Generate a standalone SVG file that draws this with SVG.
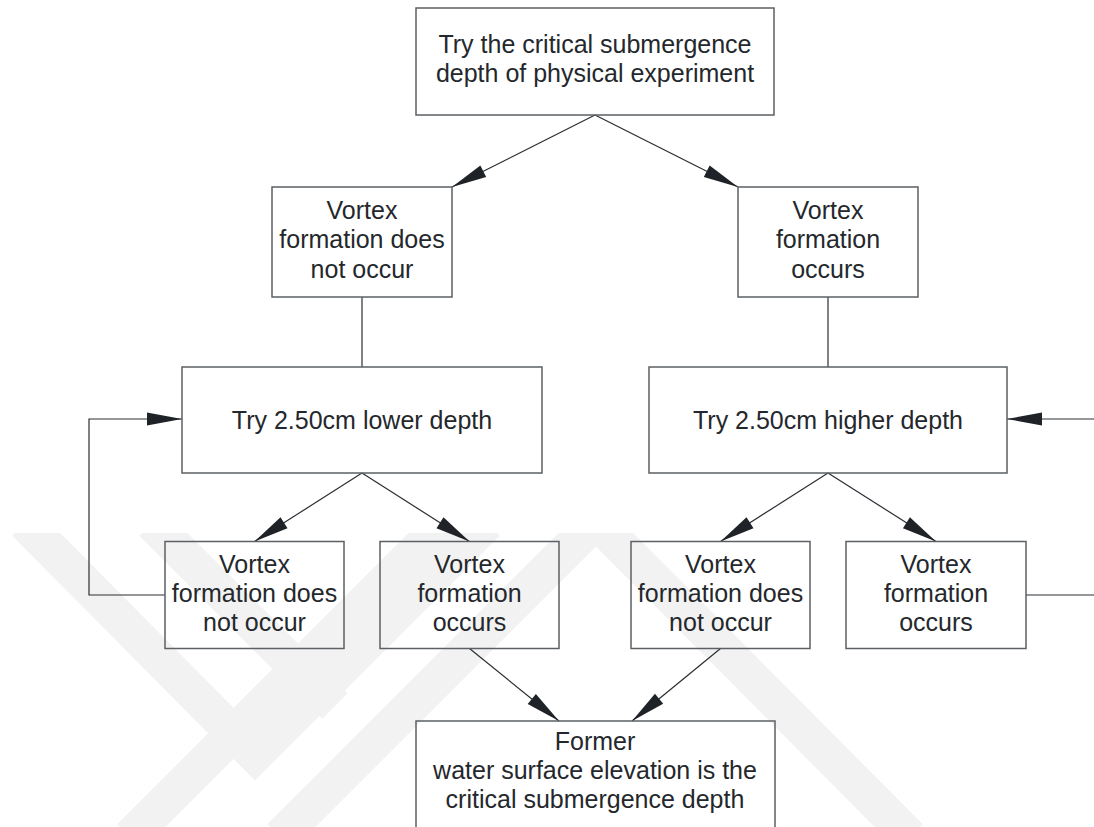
<svg xmlns="http://www.w3.org/2000/svg" width="1094" height="827" viewBox="0 0 1094 827">
<style>
.box{fill:none;stroke:#5c6064;stroke-width:1.5}
.t{font-family:"Liberation Sans",Arial,sans-serif;font-size:25px;fill:#24282c;text-anchor:middle}
.c{stroke:#2a2e33;stroke-width:1.2;fill:none}
.wm{stroke:#f2f2f2;stroke-width:36;fill:none;stroke-linecap:butt}
</style>
<defs>
<marker id="ah" markerUnits="userSpaceOnUse" markerWidth="40" markerHeight="16" viewBox="-38 -8 40 16" refX="0" refY="0" orient="auto">
<path d="M0,0 L-35,-6.5 L-35,6.5 Z" fill="#1f2328"/>
</marker>
<clipPath id="wmclip"><rect x="0" y="533" width="1094" height="294"/></clipPath>
</defs>
<rect width="1094" height="827" fill="#ffffff"/>
<g id="watermark" clip-path="url(#wmclip)">
<path class="wm" d="M25,523 L255,755 L487,523"/>
<path class="wm" d="M152,523 L335,706"/>
<path class="wm" d="M130,837 L444,523"/>
<path class="wm" d="M280,837 L594,523"/>
<path class="wm" d="M598,523 L910,837"/>
</g>
<g id="connectors">
<line class="c" x1="595" y1="115" x2="452" y2="187" marker-end="url(#ah)"/>
<line class="c" x1="595" y1="115" x2="738" y2="187" marker-end="url(#ah)"/>
<line class="c" x1="362" y1="297" x2="362" y2="367"/>
<line class="c" x1="828" y1="297" x2="828" y2="367"/>
<line class="c" x1="362" y1="473" x2="254.5" y2="541.5" marker-end="url(#ah)"/>
<line class="c" x1="362" y1="473" x2="469.5" y2="541.5" marker-end="url(#ah)"/>
<line class="c" x1="828" y1="473" x2="720.5" y2="541.5" marker-end="url(#ah)"/>
<line class="c" x1="828" y1="473" x2="936" y2="541.5" marker-end="url(#ah)"/>
<polyline class="c" points="165,595 89,595 89,419 182,419" marker-end="url(#ah)"/>
<line class="c" x1="1094" y1="419" x2="1007" y2="419" marker-end="url(#ah)"/>
<line class="c" x1="1026" y1="595" x2="1094" y2="595"/>
<line class="c" x1="469.5" y1="648.5" x2="559" y2="721" marker-end="url(#ah)"/>
<line class="c" x1="720.5" y1="648.5" x2="632" y2="721" marker-end="url(#ah)"/>
</g>
<g id="n-start">
<rect class="box" x="416" y="8" width="358" height="107"/>
<text class="t" x="595" y="53">Try the critical submergence</text>
<text class="t" x="595" y="82">depth of physical experiment</text>
</g>
<g id="n-no1">
<rect class="box" x="272" y="187" width="180" height="110"/>
<text class="t" x="362" y="219">Vortex</text>
<text class="t" x="362" y="248">formation does</text>
<text class="t" x="362" y="278">not occur</text>
</g>
<g id="n-yes1">
<rect class="box" x="738" y="187" width="180" height="110"/>
<text class="t" x="828" y="219">Vortex</text>
<text class="t" x="828" y="248">formation</text>
<text class="t" x="828" y="278">occurs</text>
</g>
<g id="n-lower">
<rect class="box" x="182" y="367" width="360" height="106"/>
<text class="t" x="362" y="429">Try 2.50cm lower depth</text>
</g>
<g id="n-higher">
<rect class="box" x="649" y="367" width="358" height="106"/>
<text class="t" x="828" y="429">Try 2.50cm higher depth</text>
</g>
<g id="n-lower-no">
<rect class="box" x="165" y="541.5" width="179" height="107"/>
<text class="t" x="254.5" y="573">Vortex</text>
<text class="t" x="254.5" y="602">formation does</text>
<text class="t" x="254.5" y="631">not occur</text>
</g>
<g id="n-lower-yes">
<rect class="box" x="380" y="541.5" width="179" height="107"/>
<text class="t" x="469.5" y="573">Vortex</text>
<text class="t" x="469.5" y="602">formation</text>
<text class="t" x="469.5" y="631">occurs</text>
</g>
<g id="n-higher-no">
<rect class="box" x="631" y="541.5" width="179" height="107"/>
<text class="t" x="720.5" y="573">Vortex</text>
<text class="t" x="720.5" y="602">formation does</text>
<text class="t" x="720.5" y="631">not occur</text>
</g>
<g id="n-higher-yes">
<rect class="box" x="846" y="541.5" width="180" height="107"/>
<text class="t" x="936" y="573">Vortex</text>
<text class="t" x="936" y="602">formation</text>
<text class="t" x="936" y="631">occurs</text>
</g>
<g id="n-result">
<rect class="box" x="416" y="721" width="359" height="120"/>
<text class="t" x="595" y="750">Former</text>
<text class="t" x="595" y="779">water surface elevation is the</text>
<text class="t" x="595" y="808">critical submergence depth</text>
</g>
</svg>
